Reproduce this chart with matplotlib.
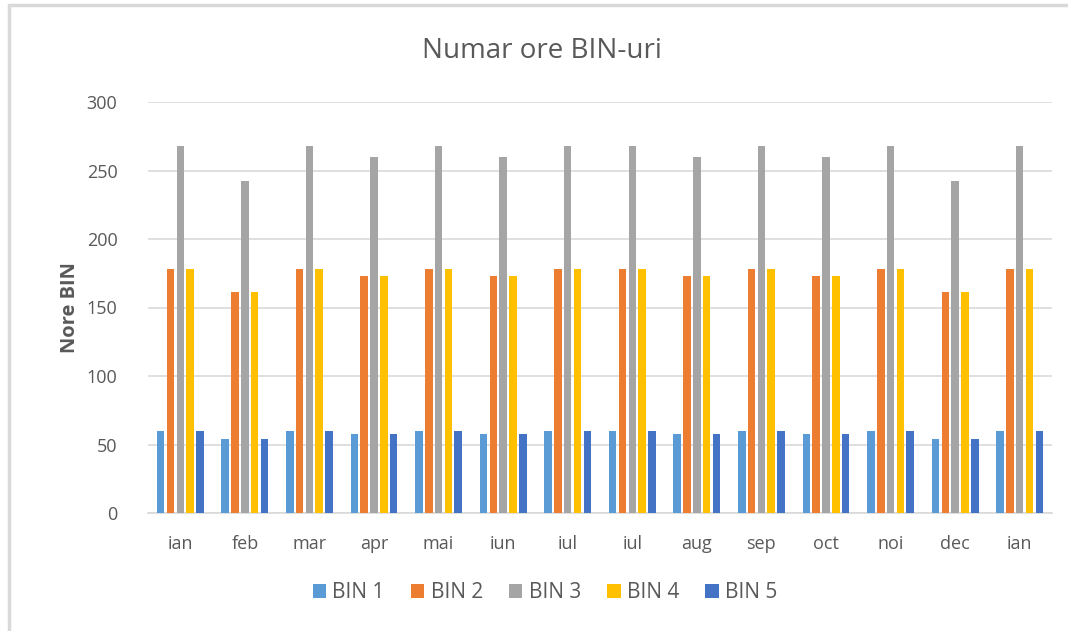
import numpy as np
import matplotlib.pyplot as plt
from matplotlib.patches import Rectangle

luni = ["ian", "feb", "mar", "apr", "mai", "iun", "iul", "iul",
        "aug", "sep", "oct", "noi", "dec", "ian"]
bin1 = [60, 54, 60, 58, 60, 58, 60, 60, 58, 60, 58, 60, 54, 60]
bin2 = [178, 161, 178, 173, 178, 173, 178, 178, 173, 178, 173, 178, 161, 178]
bin3 = [268, 242, 268, 260, 268, 260, 268, 268, 260, 268, 260, 268, 242, 268]
bin4 = [178, 161, 178, 173, 178, 173, 178, 178, 173, 178, 173, 178, 161, 178]
bin5 = [60, 54, 60, 58, 60, 58, 60, 60, 58, 60, 58, 60, 54, 60]
serii = ["BIN 1", "BIN 2", "BIN 3", "BIN 4", "BIN 5"]
culori = ["#5B9BD5", "#ED7D31", "#A5A5A5", "#FFC000", "#4472C4"]

plt.rcParams['font.family'] = ['Open Sans', 'DejaVu Sans']
text_color = "#595959"

fig = plt.figure(figsize=(10.68, 6.31), dpi=100)
W, H = 1068, 631
ax = fig.add_axes([148 / W, 1 - 513 / H, (1052 - 148) / W, (513 - 102) / H])

# chenarul graficului
fig.patches.append(Rectangle((9 / W, -0.05), 1.1, 1 - 5 / H + 0.05,
                             transform=fig.transFigure, fill=False,
                             edgecolor="#D9D9D9", linewidth=2.5))

x = np.arange(len(luni))
pas = 0.152
latime = 0.117
for i, (nume, vals, c) in enumerate(zip(serii, [bin1, bin2, bin3, bin4, bin5], culori)):
    ax.bar(x + (i - 2) * pas, vals, width=latime, color=c, label=nume, zorder=3)

ax.set_xlim(-0.5, len(luni) - 0.5)
ax.set_ylim(0, 300)
ax.set_yticks(range(0, 301, 50))
ax.set_xticks(x)
ax.set_xticklabels(luni)
ax.grid(axis="y", color="#D9D9D9", linewidth=1.2, zorder=0)
for s in ["top", "right", "left"]:
    ax.spines[s].set_visible(False)
ax.spines["bottom"].set_color("#D9D9D9")
ax.spines["bottom"].set_linewidth(1.2)
ax.tick_params(axis="both", length=0, labelsize=13, colors=text_color)
ax.tick_params(axis="y", pad=22)
ax.tick_params(axis="x", pad=16)

ax.set_ylabel("Nore BIN", fontsize=14.5, fontweight="bold", color=text_color,
              labelpad=5)
fig.text(542 / W, 1 - 51 / H, "Numar ore BIN-uri", fontsize=20, color=text_color,
         ha="center", va="center")

fig.legend(loc="center", bbox_to_anchor=(545 / W, 1 - 593 / H), ncol=5,
           frameon=False, fontsize=15, labelcolor=text_color,
           handlelength=0.65, handleheight=0.65, handletextpad=0.3, columnspacing=1.25)

fig.savefig("out.png", dpi=100)
plt.close()
